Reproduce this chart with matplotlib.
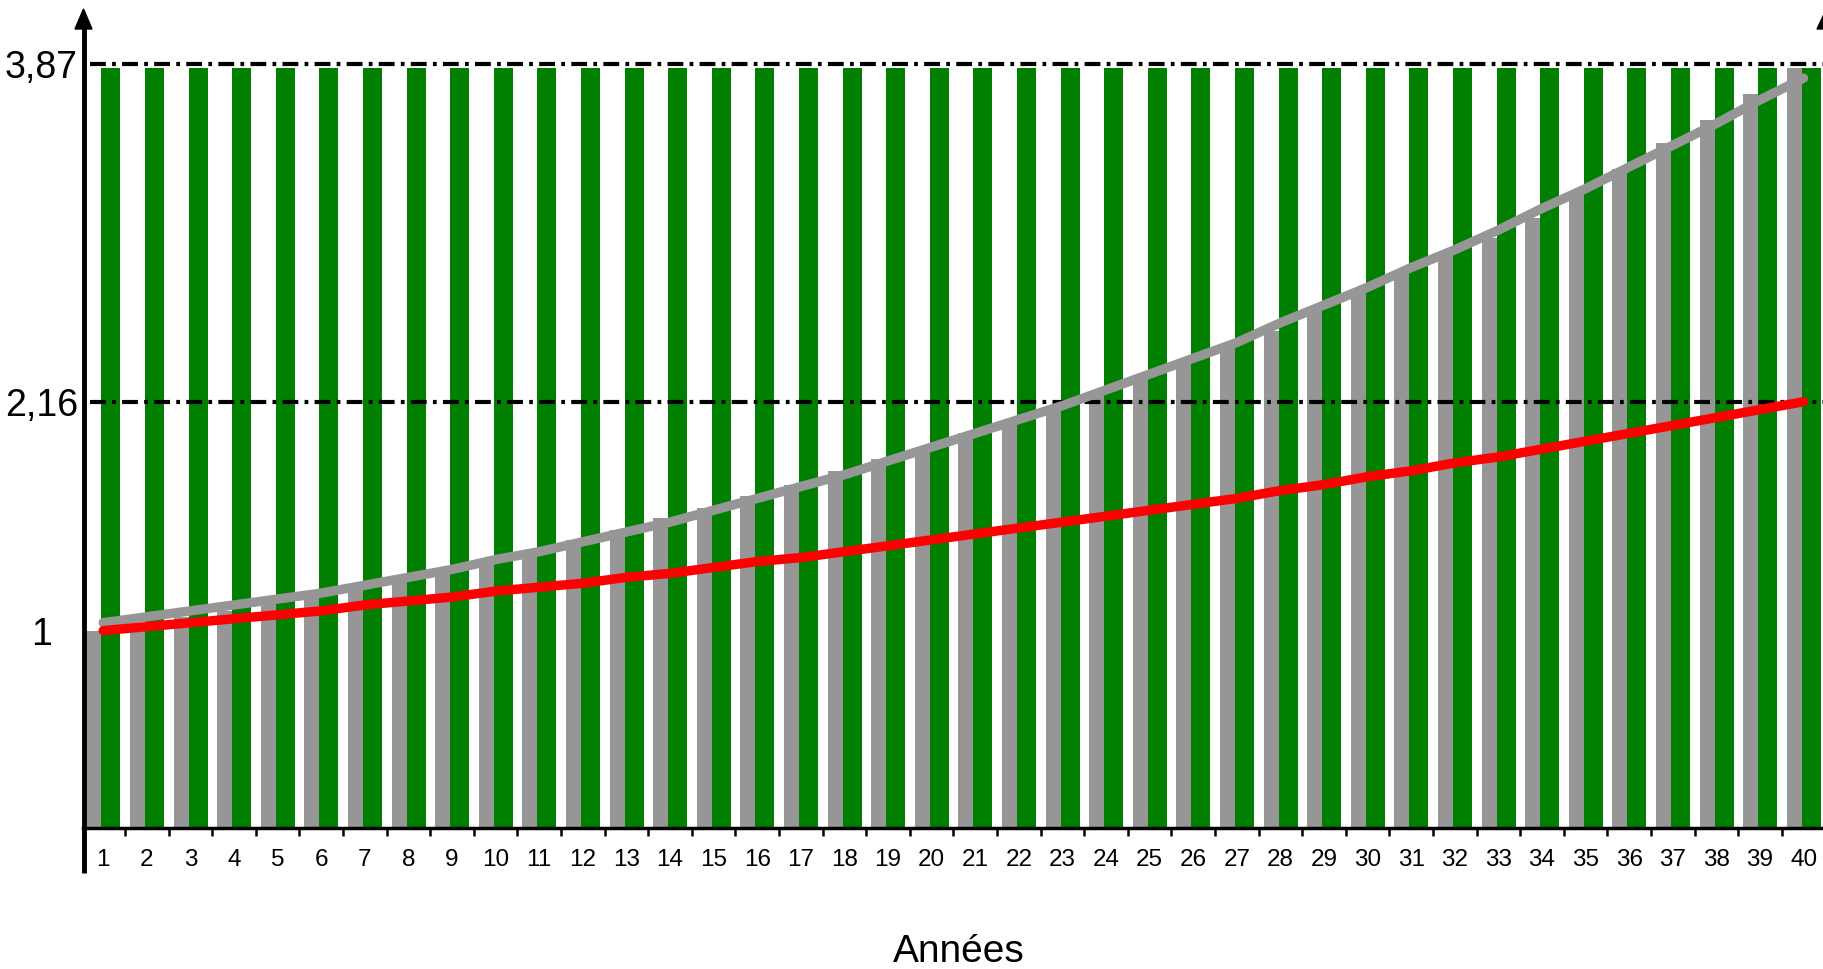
import matplotlib
matplotlib.use("Agg")
import matplotlib.pyplot as plt
import numpy as np

plt.rcParams['font.family'] = ['Liberation Sans', 'DejaVu Sans']

# valeurs
annees = list(range(1, 41))
plafond = [3.85] * 40
barres_grises = [1.00, 1.03, 1.07, 1.10, 1.14, 1.17, 1.21, 1.27, 1.31, 1.36,
                 1.41, 1.46, 1.51, 1.57, 1.62, 1.68, 1.74, 1.81, 1.87, 1.93,
                 2.00, 2.04, 2.13, 2.20, 2.28, 2.36, 2.43, 2.52, 2.63, 2.71,
                 2.81, 2.90, 2.99, 3.09, 3.22, 3.34, 3.47, 3.59, 3.72, 3.85]
courbe_grise = [1.04, 1.07, 1.10, 1.13, 1.16, 1.19, 1.23, 1.27, 1.31, 1.36,
                1.40, 1.45, 1.50, 1.55, 1.61, 1.67, 1.73, 1.79, 1.86, 1.93,
                2.00, 2.07, 2.14, 2.22, 2.30, 2.38, 2.46, 2.56, 2.65, 2.74,
                2.84, 2.93, 3.03, 3.14, 3.24, 3.35, 3.46, 3.57, 3.69, 3.80]
courbe_rouge = [1.00, 1.02, 1.04, 1.06, 1.08, 1.10, 1.13, 1.15, 1.17, 1.20,
                1.22, 1.24, 1.27, 1.29, 1.32, 1.35, 1.37, 1.40, 1.43, 1.46,
                1.49, 1.52, 1.55, 1.58, 1.61, 1.64, 1.67, 1.71, 1.74, 1.78,
                1.81, 1.85, 1.88, 1.92, 1.96, 2.00, 2.04, 2.08, 2.12, 2.16]
niveaux = [1, 2.16, 3.87]
niveaux_txt = ['1', '2,16', '3,87']

W, H = 1824, 969
fig = plt.figure(figsize=(W / 100, H / 100), dpi=100)

# pixels -> axes
x0px, y0px = 83, 827.9
px_x = 43.6      # pixels par annee
px_y = 197.3     # pixels par unite
xmin = 0.537
ax = fig.add_axes([x0px / W, (H - y0px) / H, (W - x0px) / W, y0px / H])
ax.set_xlim(xmin, xmin + (W - x0px) / px_x)
ax.set_ylim(0, y0px / px_y)

x = np.array(annees)
vert = '#007f00'
gris = '#969696'

ax.bar(x + 0.177, plafond, width=0.436, color=vert, zorder=2)
ax.bar(x - 0.213, barres_grises, width=0.344, color=gris, zorder=2)

for v in niveaux[1:]:
    ax.axhline(v, xmin=0.004, xmax=1, color='black', lw=3.0,
               ls=(0, (3.8, 1.5, 0.9, 1.5)), zorder=3)

ax.plot(x, courbe_grise, color=gris, lw=6.8, solid_capstyle='round', zorder=4)
ax.plot(x, courbe_rouge, color='#ff0000', lw=6.8, solid_capstyle='round', zorder=5)

# axes
for s in ['top', 'right', 'left']:
    ax.spines[s].set_visible(False)
ax.spines['bottom'].set_linewidth(2.5)

ax.set_xticks(x)
ax.set_xticklabels([str(a) for a in annees], fontsize=17.5)
ax.set_xticks(x[:-1] + 0.5, minor=True)
ax.tick_params(axis='x', which='major', length=0, pad=15)
ax.tick_params(axis='x', which='minor', length=6, width=1.8, direction='out')

ax.set_yticks(niveaux)
ax.set_yticklabels(niveaux_txt, fontsize=27)
ax.tick_params(axis='y', length=0, pad=30)
for t in ax.get_yticklabels():
    t.set_horizontalalignment('center')

# axe vertical avec fleche
def to_data(px, py):
    return xmin + (px - x0px) / px_x, (y0px - py) / px_y

ya, yb = to_data(x0px + 0.5, 873)[1], to_data(x0px, 26)[1]
ax.plot([xmin + 0.5 / px_x] * 2, [ya, yb], color='black', lw=3.5,
        solid_capstyle='butt', clip_on=False, zorder=6)
tri = [to_data(83.5, 9), to_data(75, 29), to_data(92, 29)]
ax.fill([p[0] for p in tri], [p[1] for p in tri], color='black', clip_on=False, zorder=6)
tri2 = [to_data(1825.5, 11), to_data(1817, 29), to_data(1834, 29)]
ax.fill([p[0] for p in tri2], [p[1] for p in tri2], color='black', clip_on=False, zorder=6)

fig.text(959 / W, 1 - 962 / H, 'Années', fontsize=28, ha='center', va='baseline')

fig.savefig('out.png', dpi=100)
